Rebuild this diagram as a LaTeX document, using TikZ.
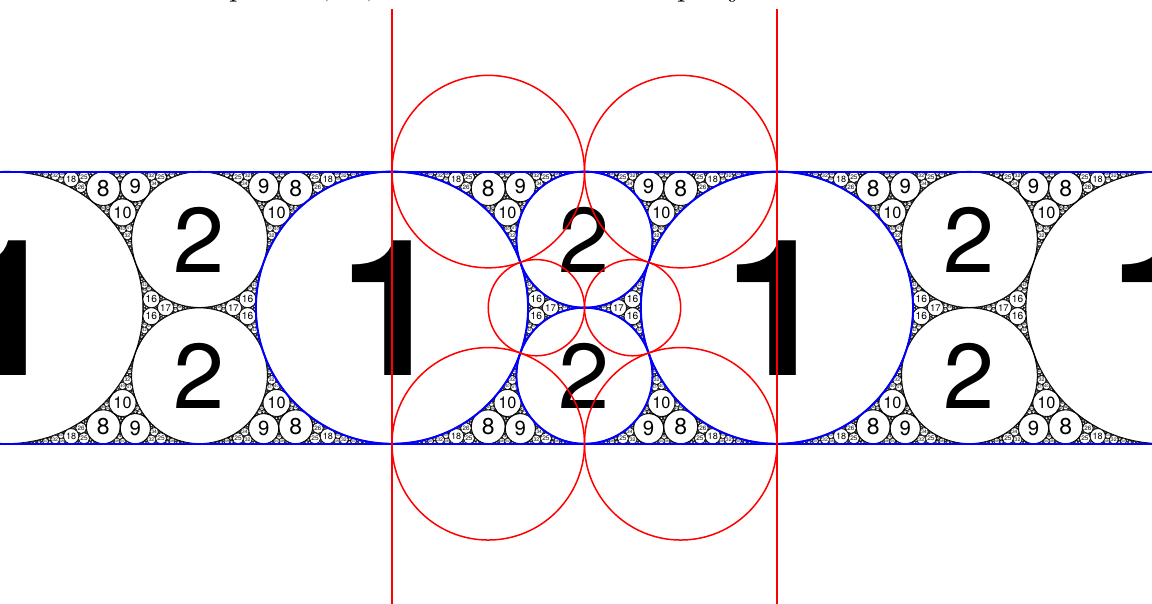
\documentclass[tikz,border=0pt]{standalone}
\usepackage{fontspec}
\newfontfamily\lab{TeX Gyre Heros}
% constants
\def\SQ{1.4142135623730951}
\def\cA{0.5857864376269049}
\def\cB{-0.4142135623730951}
\def\cC{3.414213562373095}
\def\cD{2.414213562373095}
\def\cE{4.82842712474619}
\def\cF{5.82842712474619}
\def\cG{9.242640687119286}
\def\Kmax{230}
\def\Lmax{100}
\def\Un{136.1}
\def\Per{384.95}
% triple handling
\def\settrip#1#2,#3,#4\relax{%
  \expandafter\def\csname ap#1k\endcsname{#2}%
  \expandafter\def\csname ap#1u\endcsname{#3}%
  \expandafter\def\csname ap#1v\endcsname{#4}}
\def\trip#1{\csname ap#1k\endcsname,\csname ap#1u\endcsname,\csname ap#1v\endcsname}
\def\C#1{\csname ap#1\comp\endcsname}
\def\LC#1#2{%
  \def\comp{k}\expandafter\edef\csname ap#1k\endcsname{\fpeval{#2}}%
  \def\comp{u}\expandafter\edef\csname ap#1u\endcsname{\fpeval{#2}}%
  \def\comp{v}\expandafter\edef\csname ap#1v\endcsname{\fpeval{#2}}}
\def\drawc#1{%
  \edef\Zk{\csname ap#1k\endcsname}%
  \edef\Zr{\fpeval{round(\Un/\Zk,3)}}%
  \edef\Zx{\fpeval{round(\Un*\csname ap#1u\endcsname/\Zk,3)}}%
  \edef\Zy{\fpeval{round(\Un*\csname ap#1v\endcsname/\Zk,3)}}%
  \edef\Zxa{\fpeval{\Zx-\Per}}\edef\Zxb{\fpeval{\Zx+\Per}}%
  \edef\Zw{\fpeval{min(1.1,max(0.3,0.08*\Zr))}}%
  \filldraw[fill=white,draw=black,line width=\Zw pt]
    (\Zxa pt,\Zy pt) circle[radius=\Zr pt]
    (\Zx pt,\Zy pt) circle[radius=\Zr pt]
    (\Zxb pt,\Zy pt) circle[radius=\Zr pt];
  \ifnum\fpeval{\Zk<\Lmax}=1
    \edef\Zn{\fpeval{round(\Zk)}}%
    \edef\Zf{\fpeval{round((\Zn<10 ? 1.35 : 1.2)*\Zr,2)}}%
    \foreach \xx in {\Zxa,\Zx,\Zxb}{%
      \node[font={\lab\fontsize{\Zf}{\Zf}\selectfont},inner sep=0pt] at (\xx pt,\Zy pt) {\Zn};}%
  \fi}
\def\gap#1#2#3#4{\begingroup
  \settrip{a}#1\relax\settrip{b}#2\relax\settrip{c}#3\relax\settrip{d}#4\relax
  \ifnum\fpeval{\csname apdk\endcsname<\Kmax}=1
    \LC{A}{\cA*(\C{a}+\C{b})+\cB*\C{c}+\SQ*\C{d}}%
    \LC{B}{\cA*(\C{b}+\C{c})+\cB*\C{a}+\SQ*\C{d}}%
    \LC{C}{\cA*(\C{c}+\C{a})+\cB*\C{b}+\SQ*\C{d}}%
    \drawc{A}\drawc{B}\drawc{C}%
    \LC{P}{\cC*(\C{a}+\C{b})-\SQ*\C{c}+\cD*\C{d}}%
    \LC{Q}{\cC*(\C{b}+\C{c})-\SQ*\C{a}+\cD*\C{d}}%
    \LC{R}{\cC*(\C{c}+\C{a})-\SQ*\C{b}+\cD*\C{d}}%
    \LC{E}{\cE*\C{a}+\cF*\C{d}}%
    \LC{F}{\cE*\C{b}+\cF*\C{d}}%
    \LC{G}{\cE*\C{c}+\cF*\C{d}}%
    \LC{H}{\SQ*(\C{a}+\C{b}+\C{c})+\cG*\C{d}}%
    \edef\next{%
      \noexpand\gap{\trip a}{\trip b}{\trip A}{\trip P}%
      \noexpand\gap{\trip b}{\trip c}{\trip B}{\trip Q}%
      \noexpand\gap{\trip c}{\trip a}{\trip C}{\trip R}%
      \noexpand\gap{\trip a}{\trip A}{\trip C}{\trip E}%
      \noexpand\gap{\trip b}{\trip A}{\trip B}{\trip F}%
      \noexpand\gap{\trip c}{\trip B}{\trip C}{\trip G}%
      \noexpand\gap{\trip A}{\trip B}{\trip C}{\trip H}}%
  \else
    \let\next\relax
  \fi
  \next
  \endgroup}
\tikzset{
  bigc/.style={fill=white,draw=black,line width=1.3pt},
  blueline/.style={draw=blue,line width=2pt},
  redline/.style={draw=red,line width=1.5pt},
  caption/.style={anchor=base west,inner sep=0pt,font=\fontsize{34}{34}\selectfont},
  onelab/.style={font={\lab\bfseries\fontsize{190}{190}\selectfont},inner sep=0pt},
  twolab/.style={font={\lab\fontsize{92}{92}\selectfont},inner sep=0pt},
}
\begin{document}
\begin{tikzpicture}
\path[use as bounding box] (-392pt,-296.3pt) rectangle (760pt,307.7pt);
\clip (-392pt,-296.3pt) rectangle (760pt,307.7pt);
% partial caption line above the figure (only its descenders show)
\node[caption] (cap1) at (-163pt,312.5pt) {p};
\node[caption] (cap2) at (-72pt,312.5pt) {$(g,f)$};
\node[caption] (cap3) at (285pt,312.5pt) {p};
\node[caption] (cap4) at (338pt,312.5pt) {j};
% strip background
\fill[black] (-392pt,-136.1pt) rectangle (760pt,136.1pt);
% big circles
\foreach \n in {-1,0,1,2}{
  \path[bigc] (\n*\Per pt,0pt) circle[radius=136.1pt];
}
\foreach \n in {-1,0,1}{
  \path[bigc] (\n*\Per pt+192.475pt,68.05pt) circle[radius=68.05pt];
  \path[bigc] (\n*\Per pt+192.475pt,-68.05pt) circle[radius=68.05pt];
}
% recursive filling of the six gaps of one period
\gap{1,0,0}{0,0,1}{2,2.8284271247461903,1}{5.82842712474619,4.82842712474619,4.82842712474619}
\gap{1,0,0}{0,0,-1}{2,2.8284271247461903,-1}{5.82842712474619,4.82842712474619,-4.82842712474619}
\gap{0,0,1}{1,2.8284271247461903,0}{2,2.8284271247461903,1}{5.82842712474619,11.65685424949238,4.82842712474619}
\gap{0,0,-1}{1,2.8284271247461903,0}{2,2.8284271247461903,-1}{5.82842712474619,11.65685424949238,-4.82842712474619}
\gap{1,0,0}{2,2.8284271247461903,1}{2,2.8284271247461903,-1}{10.65685424949238,11.65685424949238,0}
\gap{1,2.8284271247461903,0}{2,2.8284271247461903,1}{2,2.8284271247461903,-1}{10.65685424949238,18.48528137423857,0}
% big labels
\foreach \n in {-1,0,1,2}{
  \node[onelab] at (\n*\Per pt,0pt) {1};
}
\foreach \n in {-1,0,1}{
  \node[twolab] at (\n*\Per pt+192.475pt,68.05pt) {2};
  \node[twolab] at (\n*\Per pt+192.475pt,-68.05pt) {2};
}
% blue outlines
\draw[blueline] (-392pt,136.1pt) -- (760pt,136.1pt);
\draw[blueline] (-392pt,-136.1pt) -- (760pt,-136.1pt);
\draw[blueline] (0pt,0pt) circle[radius=136.1pt];
\draw[blueline] (\Per pt,0pt) circle[radius=136.1pt];
\draw[blueline] (192.475pt,68.05pt) circle[radius=68.05pt];
\draw[blueline] (192.475pt,-68.05pt) circle[radius=68.05pt];
% red dual circles and lines
\draw[redline] (0pt,298.7pt) -- (0pt,-296.3pt);
\draw[redline] (\Per pt,298.7pt) -- (\Per pt,-296.3pt);
\draw[redline] (96.24pt,136.1pt) circle[radius=96.24pt];
\draw[redline] (288.71pt,136.1pt) circle[radius=96.24pt];
\draw[redline] (96.24pt,-136.1pt) circle[radius=96.24pt];
\draw[redline] (288.71pt,-136.1pt) circle[radius=96.24pt];
\draw[redline] (144.36pt,0pt) circle[radius=48.12pt];
\draw[redline] (240.59pt,0pt) circle[radius=48.12pt];
\end{tikzpicture}
\end{document}
